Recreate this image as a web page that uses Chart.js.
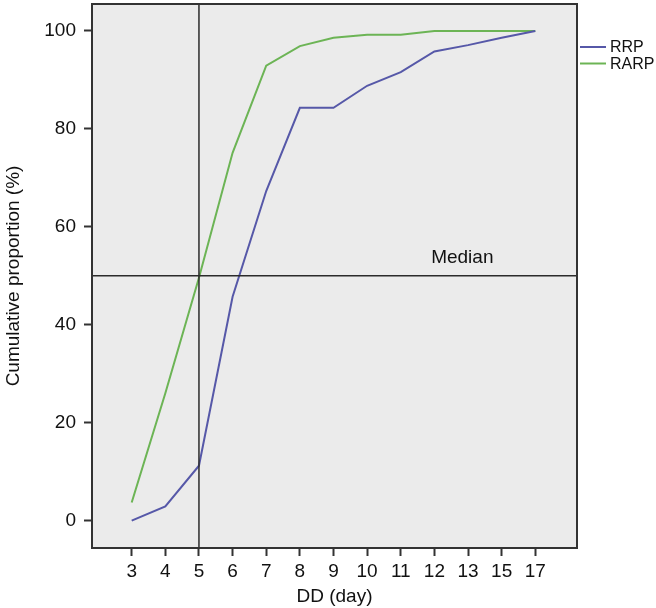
<!DOCTYPE html>
<html><head><meta charset="utf-8">
<script src="https://cdn.jsdelivr.net/npm/chart.js@4"></script>
<style>html,body{margin:0;padding:0;background:#fff;} canvas{display:block}</style>
</head><body>
<canvas id="c" width="656" height="608"></canvas>
<script>
const days = ['3','4','5','6','7','8','9','10','11','12','13','15','17'];
const rrp  = [0, 2.9, 11.2, 45.7, 67.3, 84.3, 84.3, 88.8, 91.6, 95.8, 97.1, 98.6, 100];
const rarp = [3.7, 26, 49.6, 75.1, 92.9, 96.9, 98.6, 99.2, 99.2, 100, 100, 100, 100];
const yTicks = [0, 20, 40, 60, 80, 100];
const medianValue = 50;
const medianDayIndex = 2;          // day 5
const medianLabel = 'Median';
const medianLabelPos = {x: 9.83, y: 52.7};
const seriesNames = ['RRP', 'RARP'];
const seriesColors = ['#5658a8', '#6cb455'];

const FONT = "'Liberation Sans', Arial, sans-serif";
const xMin = -1.18, xMax = 13.24, yMin = -5.6, yMax = 105.5;

const toPts = arr => arr.map((v, i) => ({x: i, y: v}));

const framePlugin = {
  id: 'frame',
  beforeDraw(chart) {
    const {ctx, chartArea: a} = chart;
    ctx.save();
    ctx.fillStyle = '#ebebeb';
    ctx.fillRect(a.left, a.top, a.right - a.left, a.bottom - a.top);
    ctx.restore();
  },
  afterDraw(chart) {
    const {ctx, chartArea: a, scales} = chart;
    ctx.save();
    ctx.strokeStyle = '#333';
    ctx.lineWidth = 2;
    ctx.strokeRect(a.left, a.top, a.right - a.left, a.bottom - a.top);
    // median label
    ctx.fillStyle = '#111';
    ctx.font = '19px ' + FONT;
    ctx.textAlign = 'center';
    ctx.textBaseline = 'alphabetic';
    ctx.fillText(medianLabel, scales.x.getPixelForValue(medianLabelPos.x), scales.y.getPixelForValue(medianLabelPos.y));
    // legend
    ctx.font = '16px ' + FONT;
    ctx.textAlign = 'left';
    ctx.textBaseline = 'middle';
    seriesNames.forEach((n, i) => {
      const y = 47 + i * 16.5;
      ctx.strokeStyle = seriesColors[i];
      ctx.lineWidth = 2;
      ctx.beginPath(); ctx.moveTo(580, y); ctx.lineTo(606, y); ctx.stroke();
      ctx.fillStyle = '#111';
      ctx.fillText(n, 610, y + 1);
    });
    ctx.restore();
  }
};

new Chart(document.getElementById('c'), {
  type: 'line',
  data: {
    datasets: [
      {label: 'medianH', data: [{x: xMin, y: medianValue}, {x: xMax, y: medianValue}], borderColor: '#2b2b2b', borderWidth: 1.5, pointRadius: 0},
      {label: 'medianV', data: [{x: medianDayIndex, y: yMin}, {x: medianDayIndex, y: yMax}], borderColor: '#2b2b2b', borderWidth: 1.5, pointRadius: 0},
      {label: seriesNames[0], data: toPts(rrp), borderColor: seriesColors[0], borderWidth: 2, pointRadius: 0, tension: 0},
      {label: seriesNames[1], data: toPts(rarp), borderColor: seriesColors[1], borderWidth: 2, pointRadius: 0, tension: 0}
    ]
  },
  options: {
    responsive: false,
    animation: false,
    events: [],
    layout: {padding: {left: 0, top: 4, right: 79, bottom: 0}},
    plugins: {legend: {display: false}, tooltip: {enabled: false}},
    scales: {
      x: {
        type: 'linear', min: xMin, max: xMax,
        afterBuildTicks: s => { s.ticks = days.map((d, i) => ({value: i})); },
        afterFit: s => { s.height = 60; s.paddingLeft = 0; s.paddingRight = 0; },
        grid: {drawOnChartArea: false, tickLength: 8, tickColor: '#333', tickWidth: 2},
        border: {display: false},
        ticks: {color: '#111', font: {family: FONT, size: 19}, padding: 4, maxRotation: 0, autoSkip: false,
                callback: v => days[v]},
        title: {display: true, text: 'DD (day)', color: '#111', font: {family: FONT, size: 19}, padding: {top: 0, bottom: 0}}
      },
      y: {
        type: 'linear', min: yMin, max: yMax,
        afterBuildTicks: s => { s.ticks = yTicks.map(v => ({value: v})); },
        afterFit: s => { s.width = 92; s.paddingTop = 0; s.paddingBottom = 0; },
        grid: {drawOnChartArea: false, tickLength: 8, tickColor: '#333', tickWidth: 2},
        border: {display: false},
        ticks: {color: '#111', font: {family: FONT, size: 19}, padding: 8, callback: v => String(v)},
        title: {display: true, text: 'Cumulative proportion (%)', color: '#111', font: {family: FONT, size: 19}, padding: {top: 2, bottom: 0}}
      }
    }
  },
  plugins: [framePlugin]
});
</script>
</body></html>
